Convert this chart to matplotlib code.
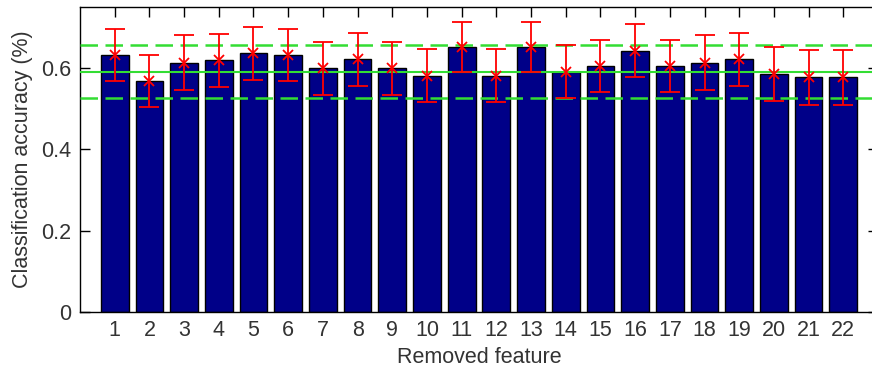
import matplotlib
matplotlib.use("Agg")
import matplotlib.pyplot as plt

# accuracy after removing each feature
features = list(range(1, 23))
accuracy = [0.633, 0.568, 0.613, 0.619, 0.636, 0.633, 0.599, 0.621, 0.599, 0.581, 0.651,
            0.581, 0.651, 0.591, 0.605, 0.643, 0.605, 0.613, 0.621, 0.586, 0.577, 0.577]
error = [0.064, 0.065, 0.067, 0.065, 0.065, 0.064, 0.066, 0.065, 0.066, 0.065, 0.062,
         0.065, 0.062, 0.065, 0.065, 0.064, 0.065, 0.067, 0.065, 0.066, 0.067, 0.067]
baseline = 0.590
baseline_low = 0.526
baseline_high = 0.657

plt.rcParams['font.family'] = ['Liberation Sans', 'DejaVu Sans']
txt = '#333333'

fig = plt.figure(figsize=(8.72, 3.72), dpi=100)
ax = fig.add_axes([80 / 872, 60 / 372, 798 / 872, 305 / 372])

ax.bar(features, accuracy, width=0.8, color='#000088', edgecolor='black', linewidth=1, zorder=2)
ax.errorbar(features, accuracy, yerr=error, fmt='x', color='red', ecolor='red',
            elinewidth=1.3, capsize=7, capthick=1.3, markersize=7, mew=1.3, zorder=4)

ax.axhline(baseline, color='#33dd33', linewidth=1.5, zorder=3)
ax.axhline(baseline_low, color='#33dd33', linewidth=1.8, linestyle=(0, (7, 3)), zorder=3)
ax.axhline(baseline_high, color='#33dd33', linewidth=1.8, linestyle=(0, (7, 3)), zorder=3)

ax.set_xlim(0, 23)
ax.set_ylim(0, 0.75)
ax.set_xticks(features)
ax.set_yticks([0, 0.2, 0.4, 0.6])
ax.set_yticklabels(['0', '0.2', '0.4', '0.6'])
ax.tick_params(direction='in', length=7, top=True, right=True, labelsize=15.5,
               labelcolor=txt, width=1, pad=6)
for s in ax.spines.values():
    s.set_linewidth(1)

ax.set_xlabel("Removed feature", fontsize=15.5, color=txt, labelpad=4)
ax.set_ylabel("Classification accuracy (%)", fontsize=15.5, color=txt, labelpad=6)

fig.savefig("out.png", dpi=100)
